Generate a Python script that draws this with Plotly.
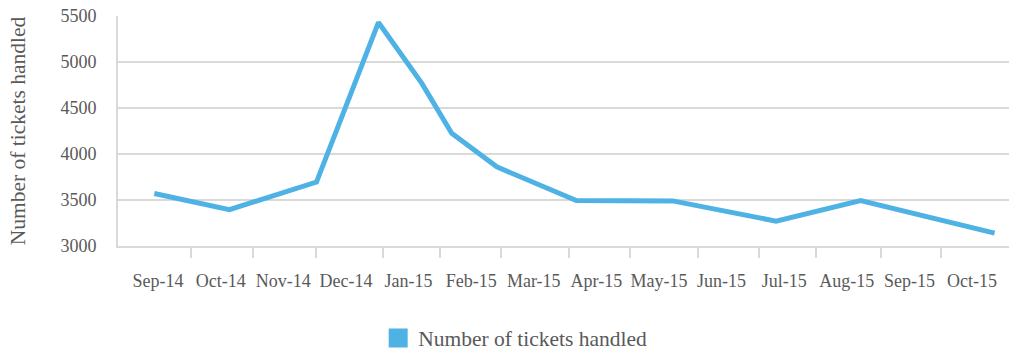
import plotly.graph_objects as go

# Month labels along the bottom axis (positions 0..13)
month_labels = ["Sep-14", "Oct-14", "Nov-14", "Dec-14", "Jan-15", "Feb-15", "Mar-15",
                "Apr-15", "May-15", "Jun-15", "Jul-15", "Aug-15", "Sep-15", "Oct-15"]

# Sample points: position in months from Sep-14 and number of tickets handled
sample_month = [-0.06, 1.14, 2.53, 3.52, 4.21, 4.69, 5.41, 6.68, 8.22, 9.87, 11.22, 13.36]
tickets = [3570, 3395, 3695, 5430, 4770, 4225, 3860, 3495, 3490, 3270, 3495, 3140]

# Positions of the small tick marks on the category axis
tick_marks = [0.52, 1.51, 2.52, 3.59, 4.51, 5.48, 6.56, 7.53, 8.63, 9.59, 10.50, 11.54, 12.51]

series_name = "Number of tickets handled"
line_color = "#4FB2E5"
grid_color = "#D9D9D9"
text_color = "#595959"
font_family = "Liberation Serif"
x_range = [-0.64, 13.59]

fig = go.Figure()

fig.add_trace(go.Scatter(
    x=sample_month, y=tickets, mode="lines",
    line=dict(color=line_color, width=5),
    showlegend=False, hoverinfo="x+y",
))

# Legend entry drawn as a filled square
fig.add_trace(go.Scatter(
    x=[None], y=[None], mode="markers", name=series_name,
    marker=dict(symbol="square", size=16, color=line_color,
                line=dict(color=line_color, width=3)),
    showlegend=True,
))

# Invisible trace carrying the month labels axis
fig.add_trace(go.Scatter(
    x=[0, len(month_labels) - 1], y=[None, None], xaxis="x2",
    mode="lines", showlegend=False, hoverinfo="skip",
))

fig.update_layout(
    width=1009, height=352,
    margin=dict(l=118, r=0, t=16, b=106, autoexpand=False),
    paper_bgcolor="white", plot_bgcolor="white",
    font=dict(family=font_family, color=text_color, size=18),
    xaxis=dict(
        range=x_range, tickmode="array", tickvals=tick_marks,
        ticktext=[""] * len(tick_marks),
        ticks="outside", ticklen=10, tickwidth=2, tickcolor=grid_color,
        showgrid=False, zeroline=False,
        showline=True, linecolor=grid_color, linewidth=2,
    ),
    xaxis2=dict(
        range=x_range, overlaying="x", anchor="y", side="bottom",
        tickmode="array", tickvals=list(range(len(month_labels))),
        ticktext=month_labels, ticks="", showgrid=False, zeroline=False,
        showline=False, ticklabelstandoff=22,
        tickfont=dict(size=18, color=text_color, family=font_family),
    ),
    yaxis=dict(
        range=[3000, 5500], tickmode="linear", tick0=3000, dtick=500,
        showgrid=True, gridcolor=grid_color, gridwidth=2,
        zeroline=False, showline=True, linecolor=grid_color, linewidth=2,
        ticks="", ticklabelstandoff=16,
        tickfont=dict(size=18, color=text_color, family=font_family),
        title=dict(text=series_name, standoff=29,
                   font=dict(size=21.5, color=text_color, family=font_family)),
    ),
    legend=dict(
        orientation="h", x=0.292, xanchor="left", y=-0.40, yanchor="middle",
        font=dict(size=21.5, color=text_color, family=font_family),
        bgcolor="rgba(0,0,0,0)", itemsizing="trace",
    ),
)

fig.write_html("out.html")
